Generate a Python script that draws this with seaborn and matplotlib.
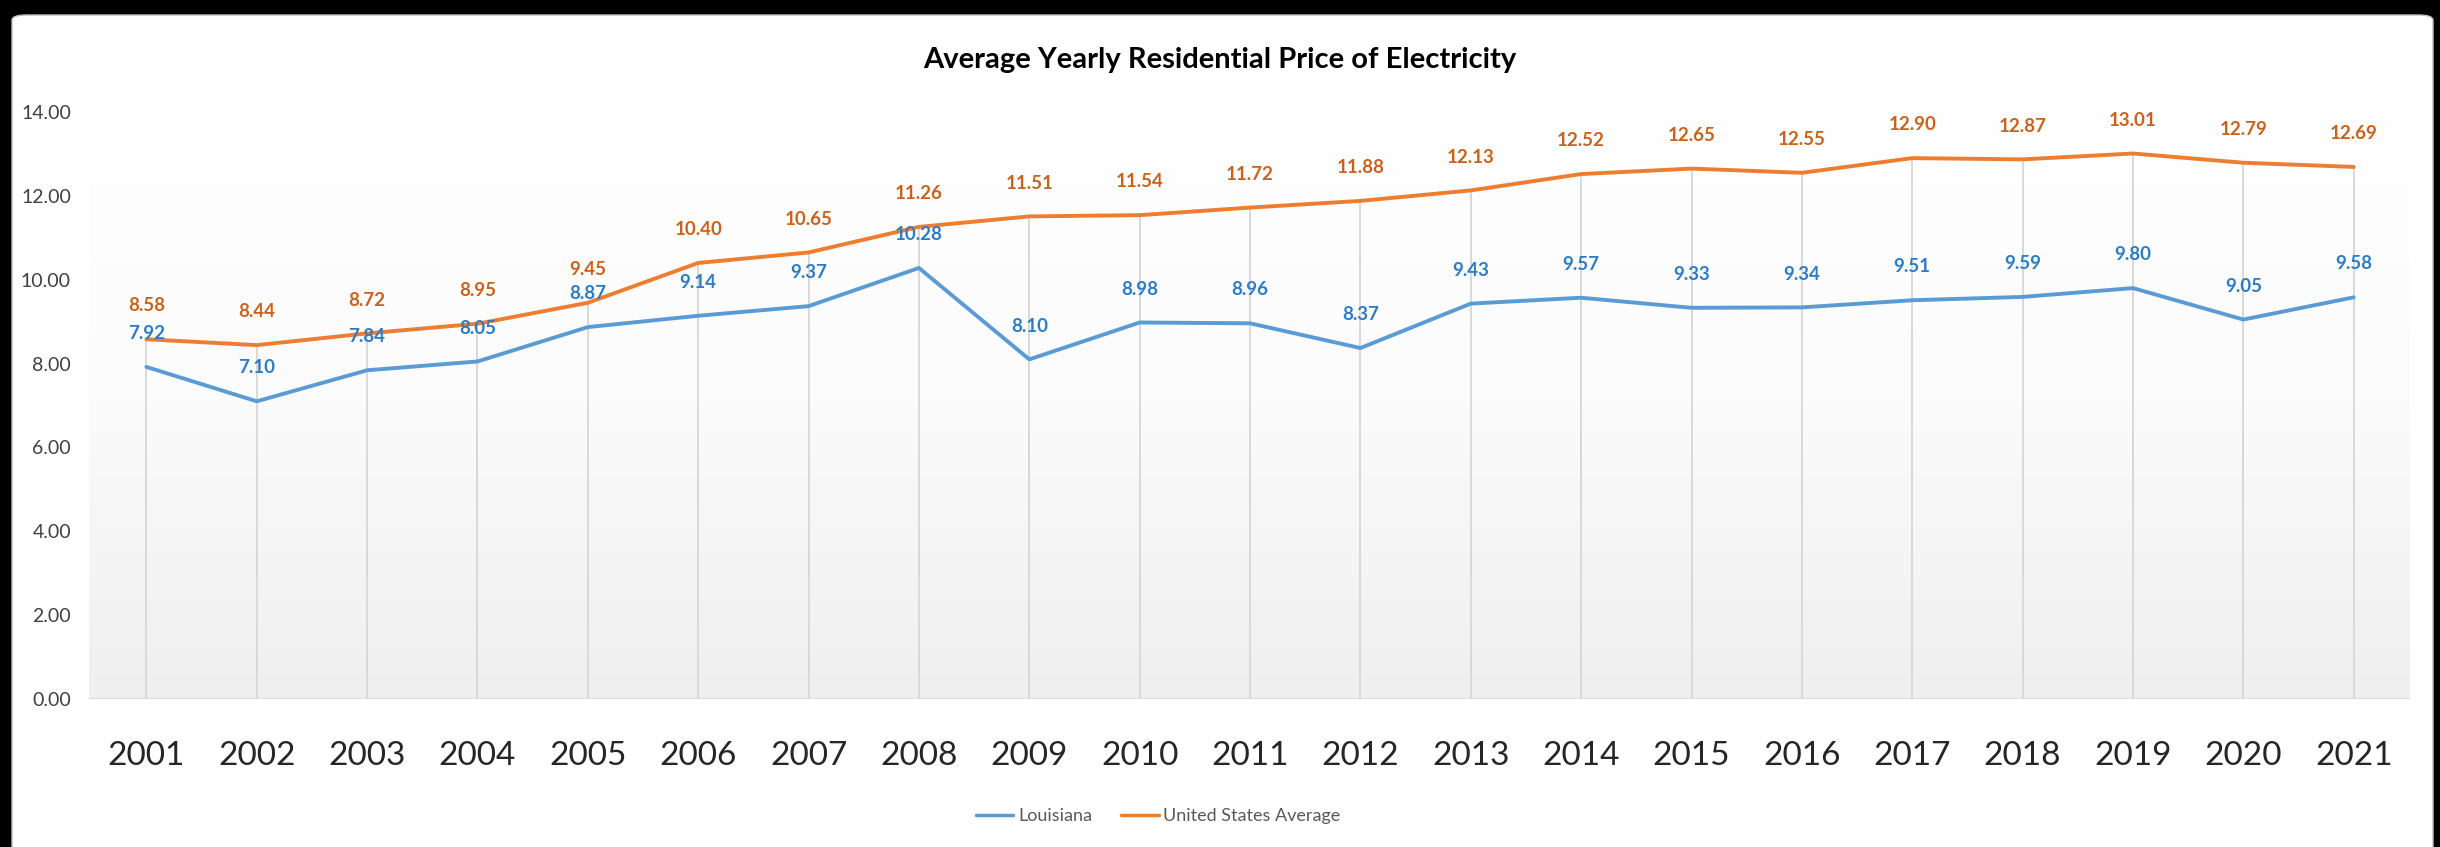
import numpy as np
import pandas as pd
import seaborn as sns
import matplotlib.pyplot as plt
from matplotlib import font_manager
from matplotlib.patches import FancyBboxPatch
from matplotlib.colors import LinearSegmentedColormap

# values
years = list(range(2001, 2022))
louisiana = [7.92, 7.10, 7.84, 8.05, 8.87, 9.14, 9.37, 10.28, 8.10, 8.98, 8.96,
             8.37, 9.43, 9.57, 9.33, 9.34, 9.51, 9.59, 9.80, 9.05, 9.58]
us_average = [8.58, 8.44, 8.72, 8.95, 9.45, 10.40, 10.65, 11.26, 11.51, 11.54, 11.72,
              11.88, 12.13, 12.52, 12.65, 12.55, 12.90, 12.87, 13.01, 12.79, 12.69]
series_names = ["Louisiana", "United States Average"]
y_ticks = [0, 2, 4, 6, 8, 10, 12, 14]

line_colors = {"Louisiana": "#5B9BD5", "United States Average": "#ED7D31"}
label_colors = {"Louisiana": "#2E7CC4", "United States Average": "#C8631E"}

df = pd.DataFrame({
    "Year": years * 2,
    "Price": louisiana + us_average,
    "Series": [series_names[0]] * len(years) + [series_names[1]] * len(years),
})

sns.set_style("white")
avail = {f.name for f in font_manager.fontManager.ttflist}
font = "Liberation Sans Narrow" if "Liberation Sans Narrow" in avail else "Lato"
plt.rcParams["font.family"] = [font, "DejaVu Sans"]

fig = plt.figure(figsize=(24.4, 8.47), dpi=100, facecolor="black")
# white chart card on the black background (runs off the bottom edge)
card = FancyBboxPatch((12 / 2440, -0.03), (2433 - 12) / 2440, (847 - 15) / 847 + 0.03,
                      boxstyle="round,pad=0,rounding_size=0.006",
                      transform=fig.transFigure, facecolor="white",
                      edgecolor="#bfbfbf", linewidth=1, zorder=-10)
fig.patches.append(card)
ax = fig.add_axes([89 / 2440, 148 / 847, (2410 - 89) / 2440, (699 - 112) / 847])
ax.set_zorder(1)
ax.set_facecolor("none")

xmin, xmax = 2000.48, 2021.51
# plot-area gradient: white on top to light gray at the bottom
grad = np.linspace(0, 1, 256).reshape(-1, 1)
cmap = LinearSegmentedColormap.from_list("bg", ["#efefef", "#fbfbfb", "#ffffff"])
ax.imshow(grad, extent=[xmin, xmax, 0, 14], origin="lower", aspect="auto",
          cmap=cmap, zorder=0)

# drop lines from the highest series down to the axis
ax.vlines(years, 0, np.maximum(louisiana, us_average), color="#d9d9d9", lw=1.4, zorder=1)
ax.axhline(0, color="#d9d9d9", lw=2, zorder=1)

sns.lineplot(data=df, x="Year", y="Price", hue="Series", palette=line_colors,
             linewidth=2.8, ax=ax, zorder=3)

for name, vals in zip(series_names, [louisiana, us_average]):
    for x, v in zip(years, vals):
        ax.annotate(f"{v:.2f}", (x, v), xytext=(0, 24), textcoords="offset points",
                    ha="center", va="center", fontsize=13.5, fontweight="bold",
                    color=label_colors[name], zorder=4)

ax.set_xlim(xmin, xmax)
ax.set_ylim(0, 14)
ax.set_xticks(years)
ax.set_xticklabels([str(y) for y in years], fontsize=24, color="#262626")
ax.set_yticks(y_ticks)
ax.set_yticklabels([f"{t:.2f}" for t in y_ticks], fontsize=14, color="#404040")
ax.tick_params(axis="x", length=0, pad=30)
ax.tick_params(axis="y", length=0, pad=13)
ax.set_xlabel("")
ax.set_ylabel("")
for s in ax.spines.values():
    s.set_visible(False)

fig.text(1220 / 2440, 1 - 60 / 847, "Average Yearly Residential Price of Electricity",
         ha="center", va="center", fontsize=21, fontweight="bold", color="black")

handles, labels = ax.get_legend_handles_labels()
leg = ax.legend(handles, labels, loc="center", bbox_to_anchor=(1158 / 2440, 1 - 816 / 847),
                bbox_transform=fig.transFigure, ncol=2, frameon=False, fontsize=13,
                handlelength=2.1, handletextpad=0.25, columnspacing=1.6)
for t in leg.get_texts():
    t.set_color("#595959")
for ln in leg.get_lines():
    ln.set_linewidth(2.5)

fig.savefig("out.png", dpi=100, facecolor="black")
